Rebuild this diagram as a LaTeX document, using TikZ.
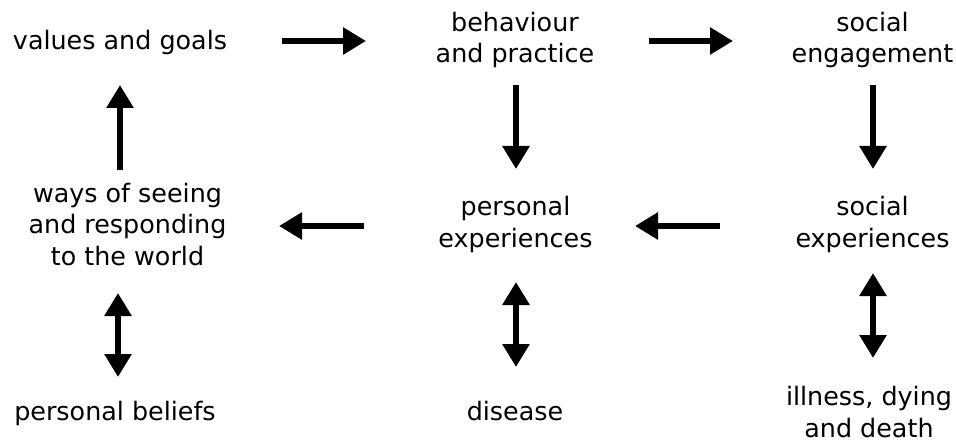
\documentclass[tikz,border=0pt]{standalone}
\usepackage{fontspec}
\setmainfont{DejaVu Sans}
\usetikzlibrary{arrows.meta}
\begin{document}
\begin{tikzpicture}[x=1pt,y=-1pt,
  lbl/.style={anchor=base,inner sep=0pt,align=center,font=\fontsize{25.4}{31.5}\selectfont},
  arr/.style={line width=6pt,-{Triangle[length=23pt,width=26pt]}},
  darr/.style={line width=6pt,{Triangle[length=23pt,width=26pt]}-{Triangle[length=23pt,width=26pt]}}]
\useasboundingbox (0,0) rectangle (956,441);
\node[lbl] (vg) at (120,50) {values and goals};
\node[lbl] (bp) at (515,63) {behaviour\\and practice};
\node[lbl] (se) at (872.5,63) {social\\engagement};
\node[lbl] (ws) at (127.5,265) {ways of seeing\\and responding\\to the world};
\node[lbl] (pe) at (515.5,247) {personal\\experiences};
\node[lbl] (sx) at (872.5,247) {social\\experiences};
\node[lbl] (pb) at (115,420) {personal beliefs};
\node[lbl] (di) at (515,420) {disease};
\node[lbl] (id) at (869,437) {illness, dying\\and death};
\coordinate (a1s) at (282,41);  \coordinate (a1e) at (366,41);
\coordinate (a2s) at (649,41);  \coordinate (a2e) at (733,41);
\coordinate (a3s) at (516,85);  \coordinate (a3e) at (516,169);
\coordinate (a4s) at (873,85);  \coordinate (a4e) at (873,169);
\coordinate (a5s) at (120,170); \coordinate (a5e) at (120,85);
\coordinate (a6s) at (364,226); \coordinate (a6e) at (279,226);
\coordinate (a7s) at (720,226); \coordinate (a7e) at (635,226);
\coordinate (d1s) at (118,293); \coordinate (d1e) at (118,377);
\coordinate (d2s) at (516,282); \coordinate (d2e) at (516,367);
\coordinate (d3s) at (873,273); \coordinate (d3e) at (873,358);
\draw[arr] (a1s) -- (a1e);
\draw[arr] (a2s) -- (a2e);
\draw[arr] (a3s) -- (a3e);
\draw[arr] (a4s) -- (a4e);
\draw[arr] (a5s) -- (a5e);
\draw[arr] (a6s) -- (a6e);
\draw[arr] (a7s) -- (a7e);
\draw[darr] (d1s) -- (d1e);
\draw[darr] (d2s) -- (d2e);
\draw[darr] (d3s) -- (d3e);
\end{tikzpicture}
\end{document}
